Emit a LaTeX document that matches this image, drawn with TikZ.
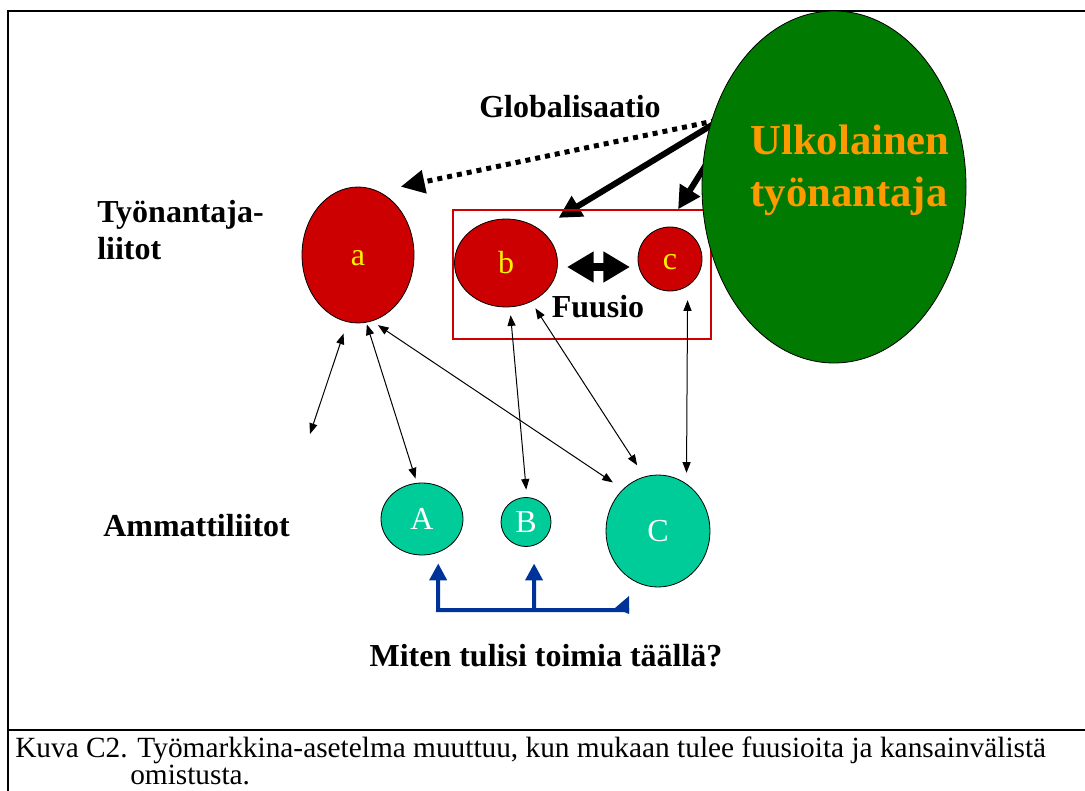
\documentclass[tikz,border=0pt]{standalone}
\usepackage{fontspec}
\setmainfont{Liberation Serif}
\usetikzlibrary{arrows.meta,shapes.geometric,backgrounds}
\definecolor{empred}{RGB}{204,0,0}
\definecolor{boxred}{RGB}{204,0,0}
\definecolor{forgreen}{RGB}{0,122,0}
\definecolor{unigreen}{RGB}{0,204,153}
\definecolor{forange}{RGB}{255,153,0}
\definecolor{routeblue}{RGB}{0,51,153}
\begin{document}
\begin{tikzpicture}[x=0.75pt,y=-0.75pt,
  lbl/.style={font=\fontsize{24}{28}\selectfont\bfseries, inner sep=0pt},
  forlbl/.style={font=\fontsize{32}{38}\selectfont\bfseries, text=forange, inner sep=0pt},
  captxt/.style={font=\fontsize{22}{26}\selectfont, inner sep=0pt},
  emp/.style={ellipse, draw=black, line width=0.6pt, fill=empred, text=yellow,
    font=\fontsize{24}{28}\selectfont, inner sep=0pt, text height=16.4pt, text depth=0pt},
  uni/.style={ellipse, draw=black, line width=0.6pt, fill=unigreen, text=white,
    font=\fontsize{24}{28}\selectfont, inner sep=0pt, text height=16.4pt, text depth=0pt},
  link/.style={line width=0.75pt, {Triangle[length=8pt,width=6pt]}-{Triangle[length=8pt,width=6pt]}},
  push/.style={line width=4.5pt, -{Triangle[length=17pt,width=17pt]}},
  globe/.style={line width=3.75pt, dash pattern=on 3.75pt off 3.75pt, -{Triangle[length=18pt,width=17pt]}},
  fuse/.style={line width=6.5pt, {Triangle[length=20pt,width=22pt]}-{Triangle[length=20pt,width=22pt]}},
  route/.style={line width=3pt, draw=routeblue, -{Triangle[length=12.75pt,width=12.75pt]}},
  frame/.style={line width=1.8pt}
]
\useasboundingbox (0,0) rectangle (1085,791);

% frame and caption rule
\draw[frame] (8,791) -- (8,11) -- (1085,11);
\draw[frame] (8,730) -- (1085,730);

% employer federations
\node[emp, minimum width=84pt, minimum height=102pt] (a) at (358,255) {a};
\node[emp, minimum width=77.25pt, minimum height=66pt] (b) at (506,263) {b};
\node[emp, minimum width=48pt, minimum height=48pt] (c) at (670,259) {c};
\node[draw=boxred, line width=2.2pt, minimum width=193.5pt, minimum height=96.75pt,
  inner sep=0pt] (fbox) at (582,274.5) {};

% foreign employer
\node[ellipse, draw=black, line width=0.6pt, fill=forgreen,
  minimum width=198pt, minimum height=264pt, inner sep=0pt] (G) at (834,187) {};
\node[forlbl, anchor=base] (ulk1) at (850,155) {Ulkolainen};
\node[forlbl, anchor=base] (ulk2) at (849,207) {työnantaja};

% trade unions
\node[uni, minimum width=61.5pt, minimum height=54pt] (A) at (422,519) {A};
\node[uni, minimum width=37.5pt, minimum height=36.75pt] (B) at (526,522) {B};
\node[uni, minimum width=78pt, minimum height=84pt] (C) at (658,531) {C};

% labels
\node[lbl, anchor=base] (glob) at (570,118) {Globalisaatio};
\node[lbl, anchor=base] (fuu) at (598,318) {Fuusio};
\node[lbl, anchor=base west] (tyo1) at (97,223) {Työnantaja-};
\node[lbl, anchor=base west] (tyo2) at (97,260) {liitot};
\node[lbl, anchor=base west] (amm) at (103,536) {Ammattiliitot};
\node[lbl, anchor=base] (miten) at (546,666) {Miten tulisi toimia täällä?};

% arrows leaving the foreign employer, tucked under its ellipse
\begin{scope}[on background layer]
  \draw[globe, shorten <=-4pt, shorten >=16.9pt] (G.152.2) -- (a.72.5);
  \draw[push, shorten <=-6pt, shorten >=16.5pt] (G.154.4) -- (b.45.5);
  \draw[push, shorten <=-6pt, shorten >=15.4pt] (G.173.5) -- (c.95.9);
\end{scope}

% merger
\coordinate (fuL) at (567,267);
\coordinate (fuR) at (630,267);
\draw[fuse] (fuL) -- (fuR);

% bargaining relations
\coordinate (lfree) at (310,434);
\draw[link, shorten <=9pt] (a.-99.6) -- (lfree);
\draw[link, shorten <=1.35pt, shorten >=3.4pt] (a.-83.6) -- (A.98.9);
\draw[link, shorten <=5.25pt, shorten >=9pt] (a.-78.7) -- (C.130.3);
\draw[link, shorten <=6pt, shorten >=5.6pt] (b.-85.7) -- (B.88.4);
\draw[link, shorten <=5.8pt, shorten >=10pt] (b.-57.2) -- (C.104.4);
\draw[link, shorten <=10.5pt, shorten >=8.1pt] (c.-57.9) -- (C.59.3);

% union cooperation
\coordinate (jA) at (438,610);
\coordinate (jB) at (534,610);
\coordinate (jC) at (629,610);
\draw[route, shorten >=8.2pt] (jC) -- (jA) -- (A.-64.2);
\draw[route, shorten >=13.4pt] (jB) -- (B.-71);
\fill[routeblue] (615,608) -- (629,596) -- (629,614) -- cycle;

% caption
\node[captxt, anchor=base west] (cap1) at (15,757)
  {Kuva C2. Työmarkkina-asetelma muuttuu, kun mukaan tulee fuusioita ja kansainvälistä};
\node[captxt, anchor=base west] (cap2) at (130,784) {omistusta.};
\end{tikzpicture}
\end{document}
